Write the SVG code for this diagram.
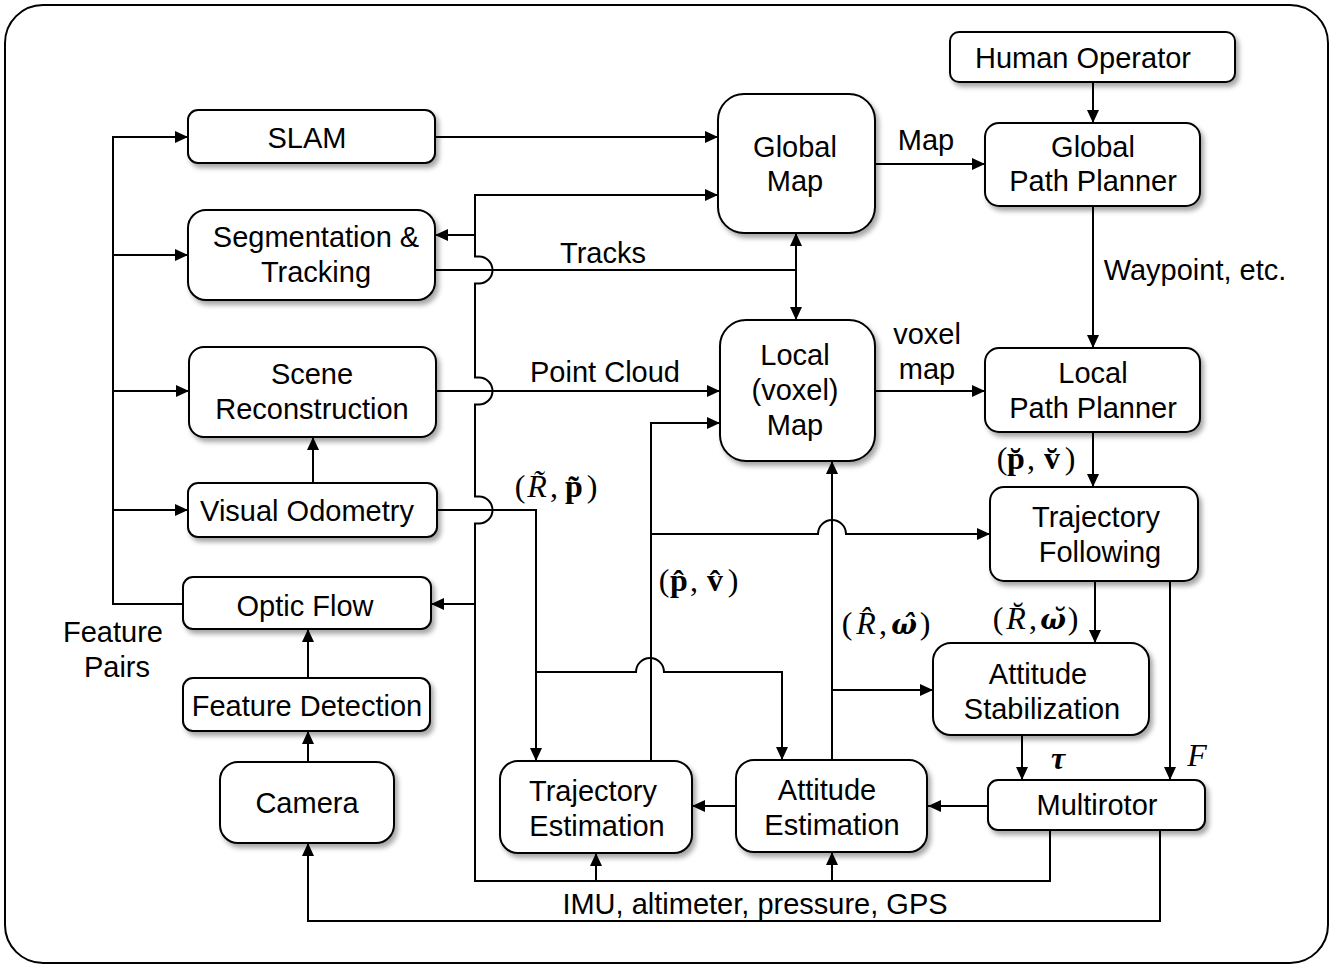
<svg xmlns="http://www.w3.org/2000/svg" width="1341" height="974" viewBox="0 0 1341 974">
<defs>
<style>
.box{fill:#fff;stroke:#000;stroke-width:2;filter:url(#sh)}
.t{font-family:"Liberation Sans",Arial,Helvetica,sans-serif;font-size:29px;text-anchor:middle;fill:#000}
.m{font-family:"Liberation Serif","Times New Roman",serif;font-size:32px;text-anchor:middle;fill:#000}
.i{font-style:italic}
.b{font-weight:bold}
.w{font-family:"DejaVu Serif",serif;font-size:27px}
.c{fill:none;stroke:#000;stroke-width:2}
.a{marker-end:url(#ah)}
</style>
<filter id="sh" x="-10%" y="-10%" width="130%" height="140%">
<feDropShadow dx="3" dy="4" stdDeviation="2.5" flood-color="#000" flood-opacity="0.35"/>
</filter>
<marker id="ah" markerUnits="userSpaceOnUse" markerWidth="14" markerHeight="12" refX="13" refY="6" orient="auto-start-reverse">
<path d="M0,0 L13,6 L0,12 z" fill="#000"/>
</marker>
</defs>
<rect x="0" y="0" width="1341" height="974" fill="#fff"/>
<rect x="5" y="5" width="1323" height="958" rx="38" fill="#fff" stroke="#000" stroke-width="2"/>

<g id="connectors">
<path class="c a" d="M183,604 H113 V137 H188"/>
<path class="c a" d="M113,255 H188"/>
<path class="c a" d="M113,391 H189"/>
<path class="c a" d="M113,510 H188"/>
<path class="c a" d="M435,137 H718"/>
<path class="c a" d="M1050,830 V881 H475 V523.5 H479 A13.5,13.5 0 0 0 479,496.5 H475 V404.5 H479 A13.5,13.5 0 0 0 479,377.5 H475 V283.5 H479 A13.5,13.5 0 0 0 479,256.5 H475 V195 H718"/>
<path class="c a" d="M475,235 H435"/>
<path class="c a" d="M475,604 H431"/>
<path class="c a" d="M596,881 V853"/>
<path class="c a" d="M832,881 V852"/>
<path class="c" d="M435,270 H796"/>
<path class="c a" d="M796,233 V320" marker-start="url(#ah)"/>
<path class="c a" d="M436,391 H720"/>
<path class="c a" d="M437,510 H536 V761"/>
<path class="c a" d="M536,672 H636 A14,14 0 0 1 664,672 H782 V760"/>
<path class="c a" d="M651,761 V423 H720"/>
<path class="c a" d="M651,534 H818 A14,14 0 0 1 846,534 H990"/>
<path class="c a" d="M832,760 V461"/>
<path class="c a" d="M832,690 H933"/>
<path class="c a" d="M736,806 H692"/>
<path class="c a" d="M988,806 H928"/>
<path class="c a" d="M875,164 H985"/>
<path class="c a" d="M1093,82 V123"/>
<path class="c a" d="M1093,206 V348"/>
<path class="c a" d="M875,391 H985"/>
<path class="c a" d="M1093,432 V487"/>
<path class="c a" d="M1095,581 V643"/>
<path class="c a" d="M1170,581 V780"/>
<path class="c a" d="M1022,735 V780"/>
<path class="c a" d="M1160,830 V921 H308 V843"/>
<path class="c a" d="M308,678 V629"/>
<path class="c a" d="M308,762 V731"/>
<path class="c a" d="M313,483 V437"/>
</g>

<g id="labels">
<text class="t" x="926" y="150">Map</text>
<text class="t" x="603" y="263">Tracks</text>
<text class="t" x="605" y="382">Point Cloud</text>
<text class="t" x="1195" y="280">Waypoint, etc.</text>
<text class="t" x="927" y="344">voxel</text>
<text class="t" x="927" y="379">map</text>
<text class="t" x="113" y="642">Feature</text>
<text class="t" x="117" y="677">Pairs</text>
<text class="t" x="755" y="914">IMU, altimeter, pressure, GPS</text>
</g>

<g id="math-labels">
<text class="m" y="497"><tspan x="520">(</tspan><tspan class="i" x="537">R&#x303;</tspan><tspan x="554">,</tspan><tspan class="b" x="574">p&#x303;</tspan><tspan x="592">)</tspan></text>
<text class="m" y="591"><tspan x="664">(</tspan><tspan class="b" x="679">p&#x302;</tspan><tspan x="694">,</tspan><tspan class="b" x="715">v&#x302;</tspan><tspan x="733">)</tspan></text>
<text class="m" y="634"><tspan x="847">(</tspan><tspan class="i" x="866">R&#x302;</tspan><tspan x="883">,</tspan><tspan class="w b i" x="904">ω&#x302;</tspan><tspan x="925">)</tspan></text>
<text class="m" y="469"><tspan x="1002">(</tspan><tspan class="b" x="1016">p&#x306;</tspan><tspan x="1031">,</tspan><tspan class="b" x="1052">v&#x306;</tspan><tspan x="1070">)</tspan></text>
<text class="m" y="629"><tspan x="998">(</tspan><tspan class="i" x="1016">R&#x306;</tspan><tspan x="1033">,</tspan><tspan class="w b i" x="1053">ω&#x306;</tspan><tspan x="1073">)</tspan></text>
<text class="m b i" x="1058" y="769">τ</text>
<text class="m i" x="1197" y="766">F</text>
</g>

<g id="human-operator"><rect class="box" x="950" y="32" width="285" height="50" rx="9"/><text class="t" x="1083" y="68">Human Operator</text></g>
<g id="slam"><rect class="box" x="188" y="110" width="247" height="53" rx="10"/><text class="t" x="307" y="148">SLAM</text></g>
<g id="segmentation"><rect class="box" x="188" y="210" width="247" height="90" rx="18"/><text class="t" x="316" y="247">Segmentation &amp;</text><text class="t" x="316" y="282">Tracking</text></g>
<g id="global-map"><rect class="box" x="718" y="94" width="157" height="139" rx="26"/><text class="t" x="795" y="157">Global</text><text class="t" x="795" y="191">Map</text></g>
<g id="global-path-planner"><rect class="box" x="985" y="123" width="215" height="83" rx="14"/><text class="t" x="1093" y="157">Global</text><text class="t" x="1093" y="191">Path Planner</text></g>
<g id="local-map"><rect class="box" x="720" y="320" width="155" height="141" rx="26"/><text class="t" x="795" y="365">Local</text><text class="t" x="795" y="400">(voxel)</text><text class="t" x="795" y="435">Map</text></g>
<g id="local-path-planner"><rect class="box" x="985" y="348" width="215" height="84" rx="14"/><text class="t" x="1093" y="383">Local</text><text class="t" x="1093" y="418">Path Planner</text></g>
<g id="scene-reconstruction"><rect class="box" x="189" y="347" width="247" height="90" rx="15"/><text class="t" x="312" y="384">Scene</text><text class="t" x="312" y="419">Reconstruction</text></g>
<g id="visual-odometry"><rect class="box" x="188" y="483" width="249" height="54" rx="10"/><text class="t" x="307" y="521">Visual Odometry</text></g>
<g id="trajectory-following"><rect class="box" x="990" y="487" width="208" height="94" rx="14"/><text class="t" x="1096" y="527">Trajectory</text><text class="t" x="1100" y="562">Following</text></g>
<g id="optic-flow"><rect class="box" x="183" y="577" width="248" height="52" rx="10"/><text class="t" x="305" y="616">Optic Flow</text></g>
<g id="feature-detection"><rect class="box" x="183" y="678" width="247" height="53" rx="10"/><text class="t" x="307" y="716">Feature Detection</text></g>
<g id="camera"><rect class="box" x="220" y="762" width="174" height="81" rx="18"/><text class="t" x="307" y="813">Camera</text></g>
<g id="attitude-stabilization"><rect class="box" x="933" y="643" width="216" height="92" rx="18"/><text class="t" x="1038" y="684">Attitude</text><text class="t" x="1042" y="719">Stabilization</text></g>
<g id="trajectory-estimation"><rect class="box" x="500" y="761" width="192" height="92" rx="18"/><text class="t" x="593" y="801">Trajectory</text><text class="t" x="597" y="836">Estimation</text></g>
<g id="attitude-estimation"><rect class="box" x="736" y="760" width="191" height="92" rx="18"/><text class="t" x="827" y="800">Attitude</text><text class="t" x="832" y="835">Estimation</text></g>
<g id="multirotor"><rect class="box" x="988" y="780" width="217" height="50" rx="10"/><text class="t" x="1097" y="815">Multirotor</text></g>
</svg>
